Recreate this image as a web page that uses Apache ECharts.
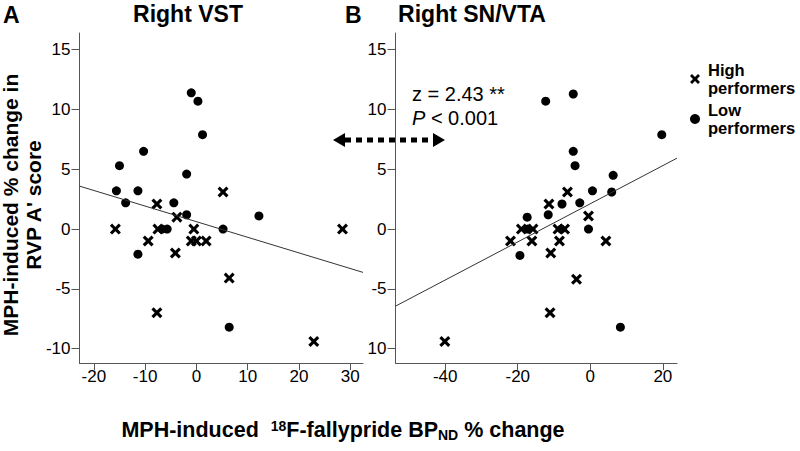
<!DOCTYPE html>
<html>
<head>
<meta charset="utf-8">
<script src="https://cdn.jsdelivr.net/npm/echarts@6/dist/echarts.min.js"></script>
<style>
  html, body { margin: 0; padding: 0; background: #fff; }
  #chart { width: 800px; height: 451px; }
</style>
</head>
<body>
<div id="chart"></div>
<script>
// Right VST (panel A)
const vstLowX = [-1.0, 0.3, 1.2, -10.3, -15.0, -1.9, -15.6, -11.4, -13.8, -4.4, -1.9, 12.2, 5.2, -6.7, -5.7, -11.4, 6.4];
const vstLowY = [11.4, 10.7, 7.9, 6.5, 5.3, 4.6, 3.2, 3.2, 2.2, 2.2, 1.2, 1.1, 0, 0, 0, -2.1, -8.2];
const vstHighX = [5.2, -7.7, -3.8, -15.8, -7.5, -0.5, 28.5, -9.4, -1.0, 0, 1.9, -4.1, 6.4, -7.7, 22.9];
const vstHighY = [3.1, 2.1, 1.0, 0, 0, 0, 0, -1, -1, -1, -1, -2.0, -4.1, -7.0, -9.4];
const vstFit = [0.62, -0.1305]; // intercept, slope

// Right SN/VTA (panel B)
const snLowX = [-4.7, -12.3, 19.7, -4.7, -4.2, 6.3, 0.6, 5.9, -2.9, -7.8, -11.6, -17.4, -0.5, -17.2, -8.0, -19.4, 8.3];
const snLowY = [11.3, 10.7, 7.9, 6.5, 5.3, 4.5, 3.2, 3.1, 2.2, 2.1, 1.2, 1.0, 0, 0, 0, -2.2, -8.2];
const snHighX = [-6.3, -11.4, -0.5, -19.0, -15.8, -8.9, -7.1, -22.0, -16.1, -8.5, 4.3, -10.9, -3.8, -11.1, -40.1];
const snHighY = [3.1, 2.1, 1.1, 0, 0, 0, 0, -1, -1, -1, -1, -2.0, -4.2, -7.0, -9.4];
const snFit = [2.12, 0.1595];

// axis extents and ticks
const yRange = [-11.2, 16.4];
const yTicks = [-10, -5, 0, 5, 10, 15];
const vstXRange = [-22.8, 32.5];
const vstXTicks = [-20, -10, 0, 10, 20, 30];
const snXRange = [-53.7, 23.9];
const snXTicks = [-40, -20, 0, 20];

const FONT = "'Liberation Sans', Arial, sans-serif";
const AXIS_COLOR = '#555';
const CROSS = 'path://M0,2L2,0L5,3L8,0L10,2L7,5L10,8L8,10L5,7L2,10L0,8L3,5Z';

const zip = (xs, ys) => xs.map((x, i) => [x, ys[i]]);
const fitLine = (fit, range) => range.map(x => [x, fit[0] + fit[1] * x]);

function xAxisOf(idx, range, ticks) {
  return {
    type: 'value', gridIndex: idx, min: range[0], max: range[1],
    splitLine: { show: false },
    axisLine: { show: true, onZero: false, lineStyle: { color: AXIS_COLOR, width: 1 } },
    axisTick: { show: true, length: 7, customValues: ticks, lineStyle: { color: AXIS_COLOR } },
    axisLabel: { customValues: ticks, margin: 5, fontSize: 17, color: '#000', fontFamily: FONT }
  };
}
function yAxisOf(idx, fmt) {
  return {
    type: 'value', gridIndex: idx, min: yRange[0], max: yRange[1],
    splitLine: { show: false },
    axisLine: { show: true, onZero: false, lineStyle: { color: AXIS_COLOR, width: 1 } },
    axisTick: { show: true, length: 8, customValues: yTicks, lineStyle: { color: AXIS_COLOR } },
    axisLabel: { customValues: yTicks, margin: 9, fontSize: 17, color: '#000', fontFamily: FONT, formatter: fmt }
  };
}

const dotStyle = { color: '#000', opacity: 1 };

const chart = echarts.init(document.getElementById('chart'), null, { renderer: 'svg' });

const option = {
  animation: false,
  backgroundColor: '#fff',
  grid: [
    { left: 79.5, top: 33, width: 283.5, height: 330 },
    { left: 395.5, top: 33, width: 281.5, height: 330 }
  ],
  xAxis: [xAxisOf(0, vstXRange, vstXTicks), xAxisOf(1, snXRange, snXTicks)],
  yAxis: [
    yAxisOf(0, v => String(v)),
    // the minus of the bottom label is hidden in the original figure
    yAxisOf(1, v => (v === -10 ? '10' : String(v)))
  ],
  legend: {
    orient: 'vertical', left: 685, top: 56,
    itemWidth: 10, itemHeight: 10, itemGap: 4,
    formatter: name => name.replace(' ', '\n'),
    textStyle: { fontSize: 16.5, fontWeight: 'bold', lineHeight: 18, color: '#000', fontFamily: FONT, padding: [0, 0, 0, 3] },
    data: [
      { name: 'High performers', icon: CROSS, itemStyle: dotStyle },
      { name: 'Low performers', icon: 'circle', itemStyle: dotStyle }
    ]
  },
  series: [
    { name: 'Low performers', type: 'scatter', xAxisIndex: 0, yAxisIndex: 0, symbol: 'circle', symbolSize: 9,
      itemStyle: dotStyle, data: zip(vstLowX, vstLowY) },
    { name: 'High performers', type: 'scatter', xAxisIndex: 0, yAxisIndex: 0, symbol: CROSS, symbolSize: 11,
      itemStyle: dotStyle, data: zip(vstHighX, vstHighY) },
    { type: 'line', xAxisIndex: 0, yAxisIndex: 0, symbol: 'none', silent: true,
      lineStyle: { color: '#333', width: 1 }, data: fitLine(vstFit, vstXRange) },
    { name: 'Low performers', type: 'scatter', xAxisIndex: 1, yAxisIndex: 1, symbol: 'circle', symbolSize: 9,
      itemStyle: dotStyle, data: zip(snLowX, snLowY) },
    { name: 'High performers', type: 'scatter', xAxisIndex: 1, yAxisIndex: 1, symbol: CROSS, symbolSize: 11,
      itemStyle: dotStyle, data: zip(snHighX, snHighY) },
    { type: 'line', xAxisIndex: 1, yAxisIndex: 1, symbol: 'none', silent: true,
      lineStyle: { color: '#333', width: 1 }, data: fitLine(snFit, snXRange) }
  ],
  graphic: [
    // panel letters and titles
    { type: 'text', left: 3, top: 3, style: { text: 'A', font: 'bold 23px ' + FONT, fill: '#000' } },
    { type: 'text', x: 188, y: 14, style: { text: 'Right VST', font: 'bold 23px ' + FONT, fill: '#000', align: 'center', verticalAlign: 'middle' } },
    { type: 'text', left: 345, top: 3, style: { text: 'B', font: 'bold 23px ' + FONT, fill: '#000' } },
    { type: 'text', x: 472, y: 14, style: { text: 'Right SN/VTA', font: 'bold 23px ' + FONT, fill: '#000', align: 'center', verticalAlign: 'middle' } },
    // y axis title
    { type: 'text', x: 22, y: 205, rotation: Math.PI / 2,
      style: { text: "MPH-induced % change in\nRVP A' score", font: 'bold 21px ' + FONT, lineHeight: 23,
               fill: '#000', align: 'center', verticalAlign: 'middle' } },
    // x axis title
    { type: 'text', x: 343, y: 430,
      style: {
        text: '{a|MPH-induced  }{sup|18}{a|F-fallypride BP}{sub|ND}{a| % change}',
        align: 'center', verticalAlign: 'middle',
        rich: {
          a: { fontSize: 21.5, fontWeight: 'bold', fontFamily: FONT, fill: '#000', lineHeight: 23, verticalAlign: 'middle' },
          sup: { fontSize: 14, fontWeight: 'bold', fontFamily: FONT, fill: '#000', lineHeight: 14, verticalAlign: 'top' },
          sub: { fontSize: 14, fontWeight: 'bold', fontFamily: FONT, fill: '#000', lineHeight: 14, verticalAlign: 'bottom' }
        }
      } },
    // z-test annotation
    { type: 'text', x: 412, y: 93.5, style: { text: 'z = 2.43 **', font: '20px ' + FONT, fill: '#000', verticalAlign: 'middle' } },
    { type: 'text', x: 412, y: 118,
      style: {
        text: '{i|P}{n| < 0.001}', verticalAlign: 'middle',
        rich: {
          i: { fontSize: 20, fontStyle: 'italic', fontFamily: FONT, fill: '#000' },
          n: { fontSize: 20, fontFamily: FONT, fill: '#000' }
        }
      } },
    // dotted double arrow between panels
    { type: 'line', shape: { x1: 345, y1: 140, x2: 433, y2: 140 },
      style: { stroke: '#000', lineWidth: 5, lineDash: [6, 5] } },
    { type: 'polygon', shape: { points: [[333, 140], [345, 133], [345, 147]] }, style: { fill: '#000' } },
    { type: 'polygon', shape: { points: [[445, 140], [433, 133], [433, 147]] }, style: { fill: '#000' } }
  ]
};

chart.setOption(option);
</script>
</body>
</html>
